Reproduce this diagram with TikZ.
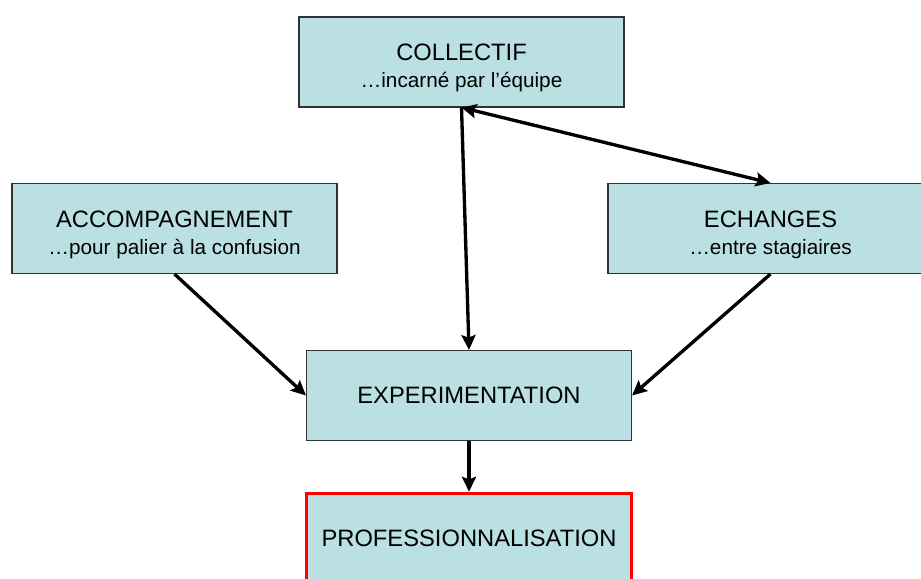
\documentclass[tikz,border=0pt]{standalone}
\usepackage{fontspec}
\setmainfont{Liberation Sans}
\usetikzlibrary{arrows.meta}
\definecolor{BoxFill}{RGB}{187,224,227}
\definecolor{BoxLine}{RGB}{50,50,50}
\definecolor{ProRed}{RGB}{255,0,0}
\newcommand{\legende}[1]{{\fontsize{11.8}{15.3}\selectfont #1}}
\newcommand{\titre}[1]{\rule{0pt}{16.5pt}#1}

\begin{document}
\begin{tikzpicture}
      \tikzstyle{blk}=[draw=BoxLine, fill=BoxFill, line width=.6pt, minimum width=6.5cm, minimum height=1.8cm, inner sep=0pt, align=center, font=\fontsize{13.5}{15.3}\selectfont];
      \tikzstyle{link}=[line width=1.9pt, -{Stealth[length=8.5pt,width=8pt,inset=1.5pt]}];
      \tikzstyle{biglink}=[line width=1.9pt, {Stealth[length=8.5pt,width=8pt,inset=1.5pt]}-{Stealth[length=8.5pt,width=8pt,inset=1.5pt]}];

      \clip (0,0) rectangle (18.42,-11.58);

      \node[blk] (collectif) at (9.23,-1.24) {\titre{COLLECTIF}\\\legende{…incarné par l’équipe}};
      \node[blk] (accomp) at (3.49,-4.57) {\titre{ACCOMPAGNEMENT}\\\legende{…pour palier à la confusion}};
      \node[blk] (echanges) at (15.41,-4.57) {\titre{ECHANGES}\\\legende{…entre stagiaires}};
      \node[blk] (exper) at (9.38,-7.91) {EXPERIMENTATION};
      \node[blk, draw=ProRed, line width=2pt] (prof) at (9.38,-10.77) {PROFESSIONNALISATION};

      \draw[link] (collectif.south) -- (exper.north);
      \draw[biglink] (collectif.south) -- (echanges.north);
      \draw[link] (accomp.south) -- (exper.west);
      \draw[link] (echanges.south) -- (exper.east);
      \draw[link] (exper.south) -- (prof.north);
\end{tikzpicture}
\end{document}
